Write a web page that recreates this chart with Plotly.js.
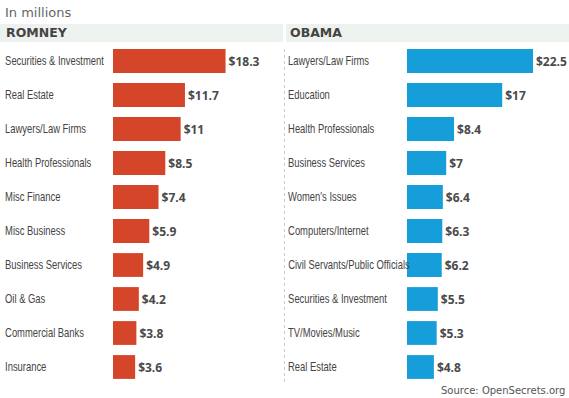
<!DOCTYPE html>
<html>
<head>
<meta charset="utf-8">
<script src="https://cdn.plot.ly/plotly-3.0.1.min.js"></script>
<style>
html,body{margin:0;padding:0;background:#fff;}
#chart{width:569px;height:398px;}
text.narrow-label{transform-box:fill-box;transform-origin:0% 50%;transform:scaleX(0.785);}
</style>
</head>
<body>
<div id="chart"></div>
<script>
const romneyCategories = ["Securities & Investment","Real Estate","Lawyers/Law Firms","Health Professionals","Misc Finance","Misc Business","Business Services","Oil & Gas","Commercial Banks","Insurance"];
const romneyValues = [18.3, 11.7, 11, 8.5, 7.4, 5.9, 4.9, 4.2, 3.8, 3.6];
const obamaCategories = ["Lawyers/Law Firms","Education","Health Professionals","Business Services","Women's Issues","Computers/Internet","Civil Servants/Public Officials","Securities & Investment","TV/Movies/Music","Real Estate"];
const obamaValues = [22.5, 17, 8.4, 7, 6.4, 6.3, 6.2, 5.5, 5.3, 4.8];
const panelTitles = ["ROMNEY", "OBAMA"];
const unitNote = "In millions";
const sourceNote = "Source: OpenSecrets.org";

const W = 569, H = 398;
const px = v => v / W, py = v => 1 - v / H;
const valueFont = {family: "Open Sans, sans-serif", size: 12, color: "#4a4a4a", weight: "bold"};
const labelFont = {family: "Liberation Sans, Arial, sans-serif", size: 12, color: "#444"};

const traces = [
  {type: "bar", orientation: "h", x: romneyValues, y: romneyCategories, xaxis: "x", yaxis: "y",
   marker: {color: "#d5452a"}, width: 0.7, text: romneyValues.map(v => "$" + v), textposition: "outside",
   textfont: valueFont, cliponaxis: false, hoverinfo: "none"},
  {type: "bar", orientation: "h", x: obamaValues, y: obamaCategories, xaxis: "x2", yaxis: "y2",
   marker: {color: "#159ed9"}, width: 0.7, text: obamaValues.map(v => "$" + v), textposition: "outside",
   textfont: valueFont, cliponaxis: false, hoverinfo: "none"}
];

const yDomain = [py(384), py(44)];
const annotations = [];
romneyCategories.forEach(c => annotations.push({xref: "paper", yref: "y", x: px(3), y: c, text: c, showarrow: false, xanchor: "left", font: labelFont}));
obamaCategories.forEach(c => annotations.push({xref: "paper", yref: "y2", x: px(285.5), y: c, text: c, showarrow: false, xanchor: "left", font: labelFont}));
const nLabels = annotations.length;
annotations.push({xref: "paper", yref: "paper", x: px(3), y: py(12), text: unitNote, showarrow: false, xanchor: "left", yanchor: "middle", font: {family: "DejaVu Sans, Verdana, sans-serif", size: 13, color: "#666"}});
annotations.push({xref: "paper", yref: "paper", x: px(4), y: py(33), text: "<b>" + panelTitles[0] + "</b>", showarrow: false, xanchor: "left", yanchor: "middle", font: {family: "DejaVu Sans, Verdana, sans-serif", size: 12.5, color: "#444"}});
annotations.push({xref: "paper", yref: "paper", x: px(288), y: py(33), text: "<b>" + panelTitles[1] + "</b>", showarrow: false, xanchor: "left", yanchor: "middle", font: {family: "DejaVu Sans, Verdana, sans-serif", size: 12.5, color: "#444"}});
annotations.push({xref: "paper", yref: "paper", x: px(567), y: py(390), text: sourceNote, showarrow: false, xanchor: "right", yanchor: "middle", font: {family: "DejaVu Sans, Verdana, sans-serif", size: 10, color: "#555"}});

const layout = {
  width: W, height: H, margin: {l: 0, r: 0, t: 0, b: 0}, showlegend: false,
  paper_bgcolor: "#fff", plot_bgcolor: "rgba(0,0,0,0)",
  xaxis: {domain: [px(113), px(283)], range: [0, 170 / 6.15], visible: false, fixedrange: true},
  yaxis: {domain: yDomain, type: "category", autorange: false, range: [9.5, -0.5], visible: false},
  xaxis2: {domain: [px(407), 1], range: [0, 162 / 5.6], visible: false},
  yaxis2: {domain: yDomain, type: "category", autorange: false, range: [9.5, -0.5], visible: false, anchor: "x2"},
  shapes: [
    {type: "rect", xref: "paper", yref: "paper", x0: 0, x1: px(283), y0: py(42), y1: py(24), fillcolor: "#eef2ef", line: {width: 0}, layer: "below"},
    {type: "rect", xref: "paper", yref: "paper", x0: px(286), x1: 1, y0: py(42), y1: py(24), fillcolor: "#eef2ef", line: {width: 0}, layer: "below"},
    {type: "line", xref: "paper", yref: "paper", x0: px(284.5), x1: px(284.5), y0: py(382), y1: py(46), line: {color: "#c8c8c8", width: 1, dash: "dot"}}
  ],
  annotations: annotations
};
Plotly.newPlot("chart", traces, layout, {staticPlot: true, displayModeBar: false}).then(gd => {
  gd.querySelectorAll("g.annotation").forEach(g => {
    const idx = +g.getAttribute("data-index");
    if (idx < nLabels) g.querySelectorAll("text.annotation-text").forEach(t => t.classList.add("narrow-label"));
  });
});
</script>
</body>
</html>
